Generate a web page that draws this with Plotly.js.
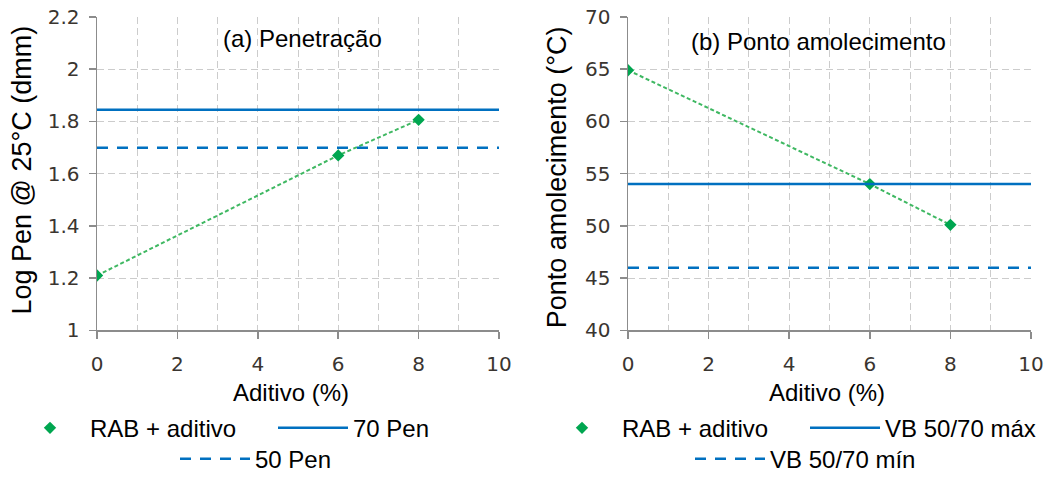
<!DOCTYPE html>
<html>
<head>
<meta charset="utf-8">
<script src="https://cdn.plot.ly/plotly-3.0.1.min.js"></script>
<style>
  html, body { margin: 0; padding: 0; background: #ffffff; }
  #chart { width: 1058px; height: 482px; }
</style>
</head>
<body>
<div id="chart"></div>
<script>
// Additive content (%) tested on the binder
const aditivo = [0, 6, 8];

// (a) log of penetration at 25 °C (dmm)
const logPen = [1.21, 1.67, 1.806];
// (b) softening point (°C)
const pontoAmolecimento = [64.9, 54, 50.1];

// Specification limits, drawn across the whole additive range
const limitX = [0, 10];
const pen70 = [1.845, 1.845];   // log10(70)
const pen50 = [1.699, 1.699];   // log10(50)
const vbMax = [54, 54];
const vbMin = [46, 46];

// Labels
const seriesName = 'RAB + aditivo';
const xTitle = 'Aditivo (%)';
const yTitleA = 'Log Pen @ 25°C (dmm)';
const yTitleB = 'Ponto amolecimento (°C)';
const panelA = '(a) Penetração';
const panelB = '(b) Ponto amolecimento';

const W = 1058, H = 482;
const px = v => v / W;
const py = v => 1 - v / H;

const GREEN = '#00a650';
const GREEN_LINE = '#3fb862';
const BLUE = '#0070c0';
const GRID = '#cccccc';
const AXIS = '#8c8c8c';
const TEXT_FONT = 'Liberation Sans, Arial, sans-serif';
const TICK_FONT = 'DejaVu Sans, Verdana, sans-serif';

const traces = [
  // panel (a)
  { x: aditivo, y: logPen, xaxis: 'x', yaxis: 'y', mode: 'lines', showlegend: false,
    line: { color: GREEN_LINE, width: 2, dash: '4px,2.5px' }, hoverinfo: 'skip' },
  { x: aditivo, y: logPen, xaxis: 'x', yaxis: 'y', mode: 'markers', name: seriesName,
    legend: 'legend', marker: { symbol: 'diamond', size: 9.5, color: GREEN } },
  { x: limitX, y: pen70, xaxis: 'x', yaxis: 'y', mode: 'lines', name: '70 Pen',
    legend: 'legend2', line: { color: BLUE, width: 2.5 } },
  { x: limitX, y: pen50, xaxis: 'x', yaxis: 'y', mode: 'lines', name: '50 Pen',
    legend: 'legend3', line: { color: BLUE, width: 2.5, dash: '11px,9px' } },
  // panel (b)
  { x: aditivo, y: pontoAmolecimento, xaxis: 'x2', yaxis: 'y2', mode: 'lines', showlegend: false,
    line: { color: GREEN_LINE, width: 2, dash: '4px,2.5px' }, hoverinfo: 'skip' },
  { x: aditivo, y: pontoAmolecimento, xaxis: 'x2', yaxis: 'y2', mode: 'markers', name: seriesName,
    legend: 'legend4', marker: { symbol: 'diamond', size: 9.5, color: GREEN } },
  { x: limitX, y: vbMax, xaxis: 'x2', yaxis: 'y2', mode: 'lines', name: 'VB 50/70 máx',
    legend: 'legend5', line: { color: BLUE, width: 2.5 } },
  { x: limitX, y: vbMin, xaxis: 'x2', yaxis: 'y2', mode: 'lines', name: 'VB 50/70 mín',
    legend: 'legend6', line: { color: BLUE, width: 2.5, dash: '11px,9px' } }
];

function xAxis(domain, anchor) {
  return {
    domain: domain, anchor: anchor, range: [0, 10], tick0: 0, dtick: 2,
    showline: true, linecolor: AXIS, linewidth: 1.5,
    ticks: 'outside', ticklen: 7, tickcolor: AXIS, tickwidth: 1.5,
    ticklabelstandoff: 8,
    showgrid: true, gridcolor: GRID, griddash: '7px,4px', gridwidth: 1,
    minor: { dtick: 1, showgrid: true, gridcolor: GRID, griddash: '7px,4px', gridwidth: 1, ticks: '' },
    zeroline: false, fixedrange: true,
    tickfont: { family: TICK_FONT, size: 20, color: '#3a3530' }
  };
}
function yAxis(domain, anchor, range, dtick) {
  return {
    domain: domain, anchor: anchor, range: range, dtick: dtick, tick0: range[0],
    showline: true, linecolor: AXIS, linewidth: 1.5,
    ticks: 'outside', ticklen: 7, tickcolor: AXIS, tickwidth: 1.5,
    ticklabelstandoff: 5,
    showgrid: true, gridcolor: GRID, griddash: '7px,4px', gridwidth: 1,
    zeroline: false, fixedrange: true,
    tickfont: { family: TICK_FONT, size: 20, color: '#3a3530' }
  };
}

function legendAt(x, y) {
  return {
    x: px(x), y: py(y), xanchor: 'left', yanchor: 'middle', orientation: 'h',
    bgcolor: 'rgba(0,0,0,0)', borderwidth: 0, itemwidth: 70,
    font: { family: TEXT_FONT, size: 24, color: '#000000' }
  };
}

const yDom = [py(341), py(17.5)];

function note(text, x, y, size, angle) {
  return {
    text: text, x: px(x), y: py(y), xref: 'paper', yref: 'paper', showarrow: false,
    textangle: angle || 0, xanchor: 'center', yanchor: 'middle',
    font: { family: TEXT_FONT, size: size, color: '#000000' }
  };
}

const layout = {
  width: W, height: H, autosize: false,
  margin: { l: 0, r: 0, t: 0, b: 0 },
  paper_bgcolor: '#ffffff', plot_bgcolor: '#ffffff',
  font: { family: TEXT_FONT, color: '#000000' },
  xaxis: xAxis([px(97), px(499)], 'y'),
  yaxis: yAxis(yDom, 'x', [1, 2.2], 0.2),
  xaxis2: xAxis([px(628), px(1031)], 'y2'),
  yaxis2: yAxis(yDom, 'x2', [40, 70], 5),
  legend: legendAt(10, 442),
  legend2: legendAt(273, 442),
  legend3: legendAt(175, 474),
  legend4: legendAt(542, 442),
  legend5: legendAt(805, 442),
  legend6: legendAt(690, 474),
  annotations: [
    note(panelA, 302, 40, 24),
    note(panelB, 818, 43, 24),
    note(xTitle, 291, 405, 24),
    note(xTitle, 827, 405, 24),
    note(yTitleA, 22, 176, 27, -90),
    note(yTitleB, 557, 183, 27, -90)
  ]
};

Plotly.newPlot('chart', traces, layout, { staticPlot: true, displayModeBar: false });
</script>
</body>
</html>
